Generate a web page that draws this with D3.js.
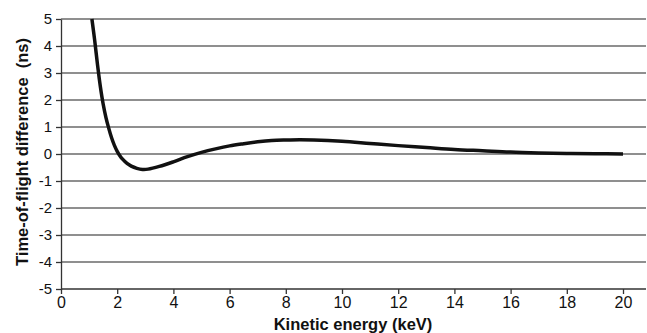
<!DOCTYPE html>
<html>
<head>
<meta charset="utf-8">
<script src="https://cdn.jsdelivr.net/npm/d3@7"></script>
<style>
  body { margin: 0; background: #fff; }
  svg { display: block; font-family: "Liberation Sans", Arial, sans-serif; }
  .grid line { stroke: #6a6a6a; stroke-width: 1.3; }
  .axis path, .axis line { stroke: #333; stroke-width: 1.3; }
  .axis text { fill: #111; }
</style>
</head>
<body>
<svg width="647" height="333"></svg>
<script>
// curve
const energy = [1.1, 1.2, 1.3, 1.4, 1.5, 1.6, 1.7, 1.8, 1.9, 2.0, 2.1, 2.2, 2.35, 2.5, 2.7, 2.9, 3.1, 3.5, 4.0, 4.5, 5.0, 5.5, 6.0, 6.5, 7.0, 7.5, 8.0, 8.5, 9.0, 10, 11, 12, 13, 14, 15, 16, 17, 18, 19, 20];
const tofDiff = [5.0, 4.2, 3.3, 2.5, 1.85, 1.35, 0.95, 0.6, 0.32, 0.1, -0.07, -0.2, -0.35, -0.45, -0.53, -0.57, -0.56, -0.46, -0.29, -0.1, 0.06, 0.19, 0.3, 0.38, 0.45, 0.5, 0.52, 0.53, 0.52, 0.47, 0.39, 0.31, 0.24, 0.17, 0.12, 0.07, 0.04, 0.02, 0.01, 0.0];

const xTicks = [0, 2, 4, 6, 8, 10, 12, 14, 16, 18, 20];
const yTicks = [-5, -4, -3, -2, -1, 0, 1, 2, 3, 4, 5];

const data = energy.map((e, i) => ({x: e, y: tofDiff[i]}));

const plotLeft = 61, plotRight = 623, plotTop = 19, plotBottom = 289;
const gridEnd = 646;

const svg = d3.select("svg");

const xScale = d3.scaleLinear().domain([0, 20]).range([plotLeft, plotRight]);
const yScale = d3.scaleLinear().domain([-5, 5]).range([plotBottom, plotTop]);

// horizontal gridlines
svg.append("g")
    .attr("class", "grid")
    .selectAll("line")
    .data(yTicks.filter(d => d != -5))
    .join("line")
    .attr("x1", plotLeft)
    .attr("x2", gridEnd)
    .attr("y1", d => yScale(d))
    .attr("y2", d => yScale(d));

// bottom axis line spans to the grid end
svg.append("line")
    .attr("x1", plotLeft).attr("x2", gridEnd)
    .attr("y1", plotBottom).attr("y2", plotBottom)
    .attr("stroke", "#333").attr("stroke-width", 1.3);

const leftAxis = d3.axisLeft(yScale)
    .tickValues(yTicks)
    .tickFormat(d => String(d))   // plain hyphen like the original
    .tickSize(5)
    .tickSizeOuter(0)
    .tickPadding(4);

svg.append("g")
    .attr("class", "axis")
    .attr("transform", "translate(" + plotLeft + ",0)")
    .call(leftAxis)
    .call(g => g.selectAll("text").attr("font-size", 15).attr("font-family", "Liberation Sans, Arial, sans-serif"));

const botAxis = d3.axisBottom(xScale)
    .tickValues(xTicks)
    .tickSize(5)
    .tickSizeOuter(0)
    .tickPadding(3);

svg.append("g")
    .attr("class", "axis")
    .attr("transform", "translate(0," + plotBottom + ")")
    .call(botAxis)
    .call(g => g.select(".domain").remove())
    .call(g => g.selectAll("text").attr("font-size", 16).attr("font-family", "Liberation Sans, Arial, sans-serif"));

// the curve
const line = d3.line()
    .x(d => xScale(d.x))
    .y(d => yScale(d.y))
    .curve(d3.curveCatmullRom.alpha(0.5));

svg.append("path")
    .datum(data)
    .attr("d", line)
    .attr("fill", "none")
    .attr("stroke", "#111")
    .attr("stroke-width", 3.5)
    .attr("stroke-linejoin", "round");

// axis titles
svg.append("text")
    .attr("x", 353)
    .attr("y", 330)
    .attr("text-anchor", "middle")
    .attr("font-size", 16.5)
    .attr("font-weight", "bold")
    .attr("fill", "#111")
    .text("Kinetic energy (keV)");

svg.append("text")
    .attr("transform", "translate(28,152) rotate(-90)")
    .attr("text-anchor", "middle")
    .attr("font-size", 16.5)
    .attr("font-weight", "bold")
    .attr("fill", "#111")
    .style("white-space", "pre")
    .text("Time-of-flight difference  (ns)");
</script>
</body>
</html>
